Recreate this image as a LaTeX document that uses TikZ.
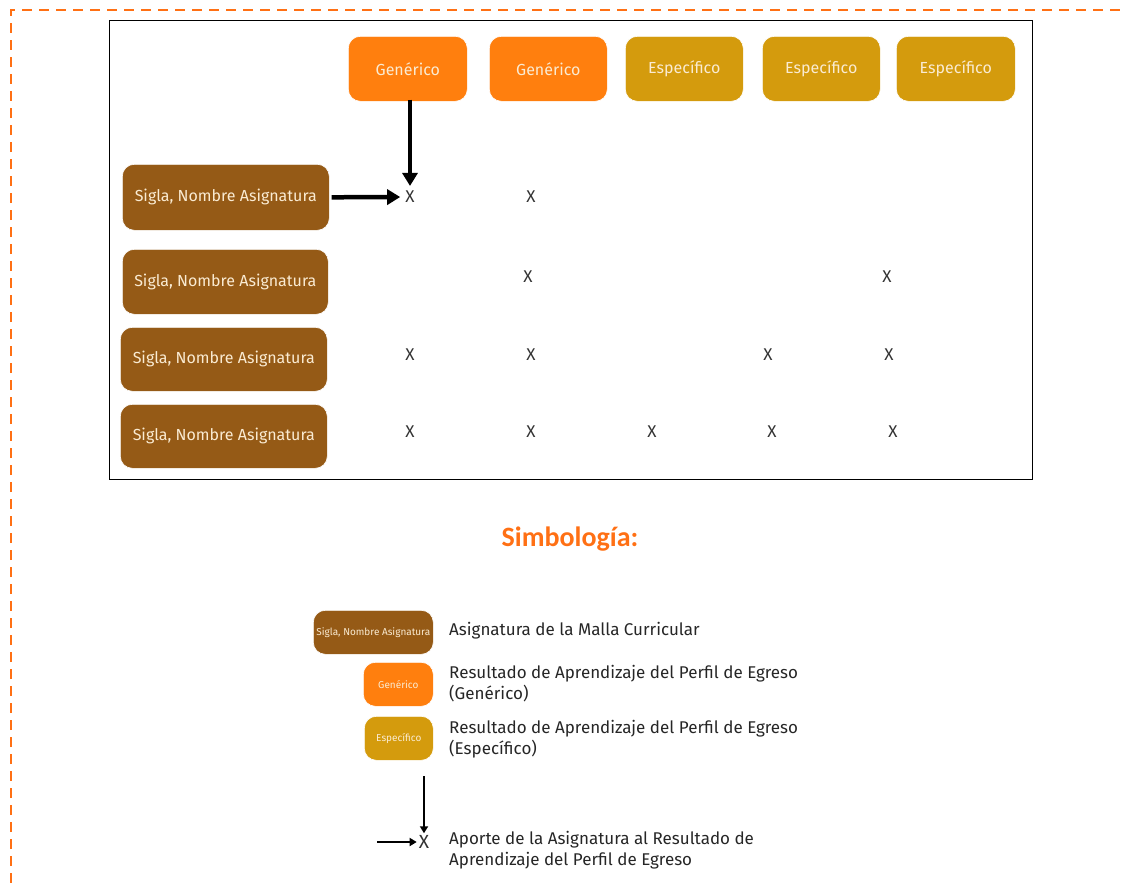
\documentclass[tikz,border=0pt]{standalone}
\usepackage{fontspec}
\setmainfont{Fira Sans}
\newfontfamily\carlito{Carlito}
\usetikzlibrary{arrows.meta}
\definecolor{gen}{RGB}{255,127,14}
\definecolor{esp}{RGB}{212,155,13}
\definecolor{asig}{RGB}{149,90,22}
\definecolor{cream}{RGB}{250,235,210}
\definecolor{dashor}{RGB}{255,112,20}
\tikzset{
  box/.style={rounded corners=12pt, draw=white, line width=0.6pt, text=cream, font=\fontsize{16}{18}\selectfont, inner sep=0pt, anchor=north west},
  genbox/.style={box, fill=gen},
  espbox/.style={box, fill=esp},
  asigbox/.style={box, fill=asig},
  xmark/.style={font=\fontsize{17}{18}\selectfont, text=black!80, inner sep=1pt},
  bigarrow/.style={line width=4.5pt, -{Triangle[length=13pt,width=15pt]}, shorten >=4pt},
  smallarrow/.style={line width=2.5pt, -{Triangle[length=7pt,width=8pt]}, shorten >=1pt},
  legtext/.style={font=\fontsize{17}{21}\selectfont, text=black!85, anchor=west, align=left, inner sep=0pt},
}
\begin{document}
\begin{tikzpicture}[x=1pt,y=-1pt]
\useasboundingbox (0,0) rectangle (1125,883);
% dashed frame
\draw[dashor, line width=2.5pt, dash pattern=on 10pt off 7pt] (11,883) -- (11,10) -- (1125,10);
% inner frame
\draw[black, line width=1pt] (109,21) rectangle (1032,479);
% headers
\node[genbox, minimum width=119pt, minimum height=65pt] (g1) at (348,36) {Genérico};
\node[genbox, minimum width=118pt, minimum height=65pt] (g2) at (489,36) {Genérico};
\node[espbox, minimum width=118pt, minimum height=65pt] (e1) at (625,36) {Específico};
\node[espbox, minimum width=118pt, minimum height=65pt] (e2) at (762,36) {Específico};
\node[espbox, minimum width=119pt, minimum height=65pt] (e3) at (896,36) {Específico};
% rows
\node[asigbox, minimum width=207pt, minimum height=66pt] (r1) at (122,164) {Sigla, Nombre Asignatura};
\node[asigbox, minimum width=206pt, minimum height=65pt] (r2) at (122,249) {Sigla, Nombre Asignatura};
\node[asigbox, minimum width=207pt, minimum height=64pt] (r3) at (120,327) {Sigla, Nombre Asignatura};
\node[asigbox, minimum width=207pt, minimum height=64pt] (r4) at (120,404) {Sigla, Nombre Asignatura};
% X marks
\node[xmark] (x11) at (410,197) {X};
\node[xmark] (x12) at (531,197) {X};
\node[xmark] (x22) at (528,277) {X};
\node[xmark] (x25) at (887,277) {X};
\node[xmark] (x31) at (410,355) {X};
\node[xmark] (x32) at (531,355) {X};
\node[xmark] (x34) at (768,355) {X};
\node[xmark] (x35) at (889,355) {X};
\node[xmark] (x41) at (410,432) {X};
\node[xmark] (x42) at (531,432) {X};
\node[xmark] (x43) at (652,432) {X};
\node[xmark] (x44) at (772,432) {X};
\node[xmark] (x45) at (893,432) {X};
% arrows
\draw[bigarrow] ([yshift=2pt]x11.north |- g1.south) -- (x11.north);
\draw[bigarrow] ([xshift=2pt]r1.east) -- (x11.west);
% title
\node[font=\carlito\bfseries\fontsize{28}{32}\selectfont, text=dashor] (title) at (570,539) {Simbología:};
% legend
\node[asigbox, minimum width=120pt, minimum height=44pt, font=\fontsize{10}{12}\selectfont] (la) at (313,610) {Sigla, Nombre Asignatura};
\node[legtext] (lat) at (449,631) {Asignatura de la Malla Curricular};
\node[genbox, minimum width=70pt, minimum height=44pt, font=\fontsize{10}{12}\selectfont] (lg) at (363,662) {Genérico};
\node[legtext] (lgt) at (449,684) {Resultado de Aprendizaje del Perfil de Egreso\\(Genérico)};
\node[espbox, minimum width=69pt, minimum height=44pt, font=\fontsize{10}{12}\selectfont] (le) at (364,716) {Específico};
\node[legtext] (let) at (449,739) {Resultado de Aprendizaje del Perfil de Egreso\\(Específico)};
\node[xmark, font=\fontsize{19}{20}\selectfont] (lx) at (424,842) {X};
\coordinate (ld) at (424,776);
\coordinate (lr) at (377,842);
\draw[smallarrow] (ld) -- (lx.north);
\draw[smallarrow] (lr) -- (lx.west);
\node[legtext] (lxt) at (449,850) {Aporte de la Asignatura al Resultado de\\Aprendizaje del Perfil de Egreso};
\end{tikzpicture}
\end{document}
